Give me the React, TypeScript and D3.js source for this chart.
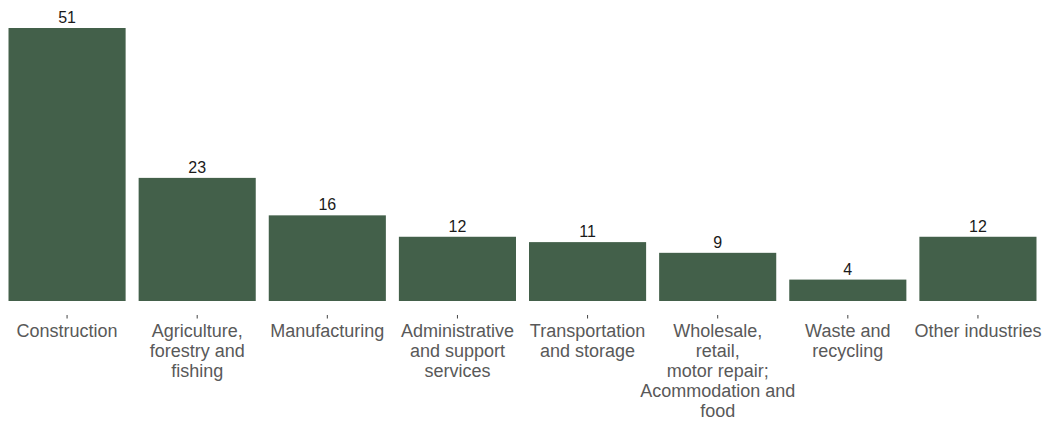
import React from "react";
import * as d3 from "d3";

const categories: string[][] = [
  ["Construction"],
  ["Agriculture,", "forestry and", "fishing"],
  ["Manufacturing"],
  ["Administrative", "and support", "services"],
  ["Transportation", "and storage"],
  ["Wholesale,", "retail,", "motor repair;", "Acommodation and", "food"],
  ["Waste and", "recycling"],
  ["Other industries"],
];
const values: number[] = [51, 23, 16, 12, 11, 9, 4, 12];

const W = 1047;
const H = 421;
const baseY = 301;
const topY = 28;

export default function App() {
  const keys = categories.map((c) => c.join(" "));
  const x = d3.scaleBand<string>().domain(keys).range([2, 1043]).paddingInner(0.1).paddingOuter(0.05);
  const y = d3.scaleLinear().domain([0, 51]).range([baseY, topY]);
  return (
    <svg width={W} height={H} style={{ position: "absolute", left: 0, top: 0 }} fontFamily="'Liberation Sans', Arial, sans-serif">
      {values.map((v, i) => {
        const k = keys[i];
        const bx = x(k)!;
        const cx = bx + x.bandwidth() / 2;
        return (
          <g key={k}>
            <rect x={bx} y={y(v)} width={x.bandwidth()} height={baseY - y(v)} fill="#43604A" />
            <text x={cx} y={y(v) - 5} textAnchor="middle" fontSize={16} fill="#1a1a1a">{v}</text>
            <line x1={cx} x2={cx} y1={315} y2={318.5} stroke="#444" strokeWidth={1} />
            <text textAnchor="middle" fontSize={18} fill="#595959">
              {categories[i].map((line, j) => (
                <tspan key={j} x={cx} y={337 + j * 20}>{line}</tspan>
              ))}
            </text>
          </g>
        );
      })}
    </svg>
  );
}
